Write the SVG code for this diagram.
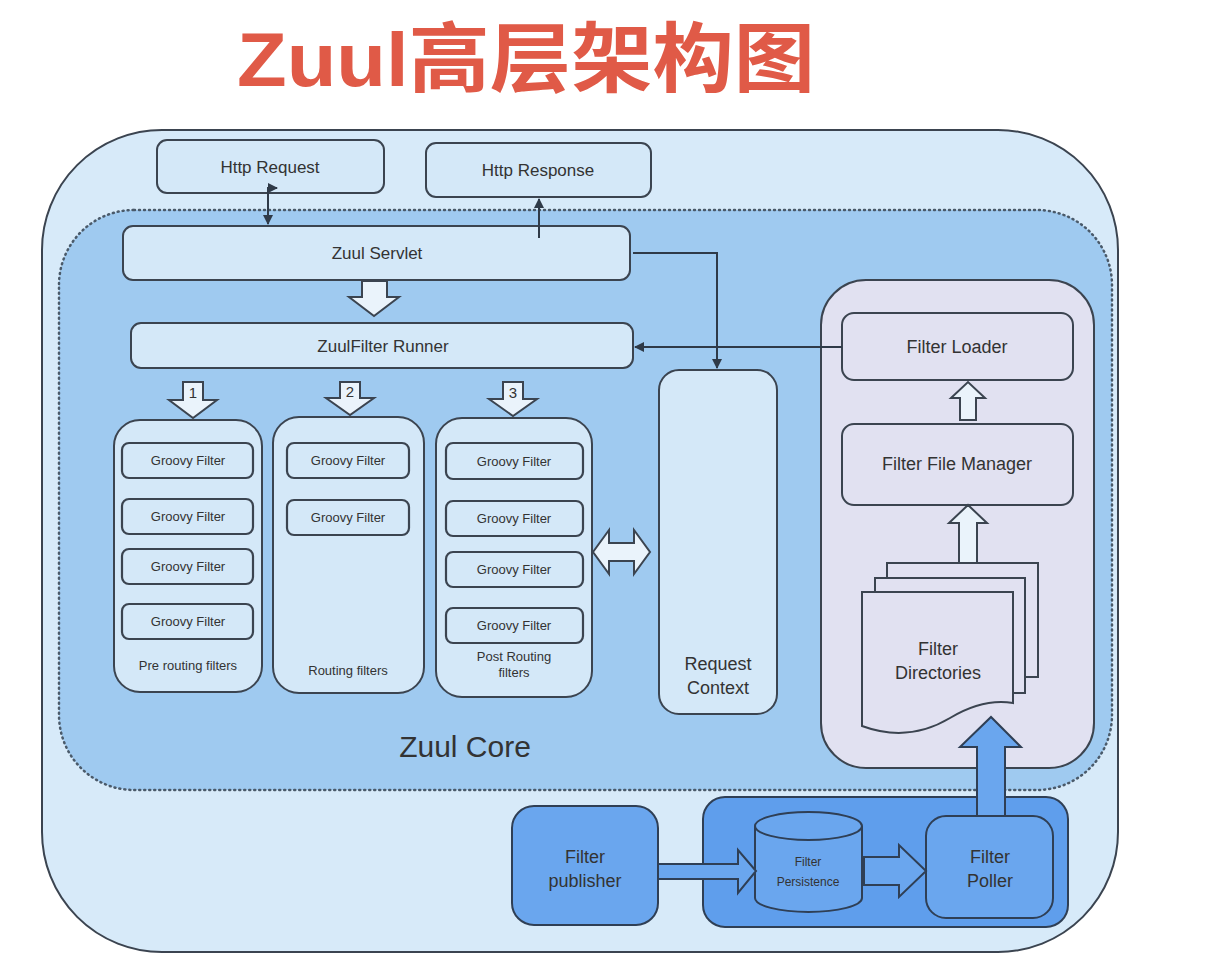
<svg xmlns="http://www.w3.org/2000/svg" width="1215" height="970" viewBox="0 0 1215 970">
<defs>
<style>
.t{font-family:"Liberation Sans",Arial,sans-serif;fill:#333;text-anchor:middle}
.box{fill:#d4e8f8;stroke:#3b4450;stroke-width:2}
.gf{fill:#d4e8f8;stroke:#3b4450;stroke-width:2.2}
.lav{fill:#e1e1f1;stroke:#3b4450;stroke-width:2}
.blue{fill:#6aa6ee;stroke:#2f3f55;stroke-width:2}
.hollow{fill:#eaf3fb;stroke:#3b4450;stroke-width:2;stroke-linejoin:miter}
.line{fill:none;stroke:#2f3a48;stroke-width:2}
</style>
<marker id="ah" viewBox="0 0 10 10" refX="9" refY="5" markerWidth="5" markerHeight="5" orient="auto-start-reverse"><path d="M0,0 L10,5 L0,10 Z" fill="#2f3a48"/></marker>
</defs>
<rect width="1215" height="970" fill="#ffffff"/>
<text x="237" y="86" font-family="'Liberation Sans','Noto Sans CJK SC',sans-serif" font-weight="bold" font-size="76" fill="#e05a47" textLength="578" lengthAdjust="spacingAndGlyphs">Zuul高层架构图</text>

<g id="outer"><rect x="42" y="130" width="1076" height="822" rx="120" fill="#d7eaf9" stroke="#3b4450" stroke-width="2"/></g>
<g id="zuul-core"><rect x="59" y="210" width="1053" height="580" rx="75" fill="#9fcaf0" stroke="#4a5a6a" stroke-width="2.5" stroke-dasharray="1 4" stroke-linecap="round"/>
<text class="t" x="465" y="757" font-size="30" fill="#222">Zuul Core</text></g>

<g id="http-request"><rect class="box" x="157" y="140" width="227" height="53" rx="10"/><text class="t" x="270" y="173" font-size="17">Http Request</text></g>
<g id="http-response"><rect class="box" x="426" y="143" width="225" height="54" rx="10"/><text class="t" x="538" y="176" font-size="17">Http Response</text></g>
<g id="zuul-servlet"><rect class="box" x="123" y="226" width="507" height="54" rx="10"/><text class="t" x="377" y="259" font-size="17">Zuul Servlet</text></g>
<g id="zuulfilter-runner"><rect class="box" x="131" y="323" width="502" height="45" rx="10"/><text class="t" x="383" y="352" font-size="17">ZuulFilter Runner</text></g>

<g id="pre-routing"><rect class="box" x="114" y="420" width="148" height="272" rx="26"/>
<rect class="gf" x="122" y="443" width="131" height="35" rx="7"/><text class="t" x="188" y="465" font-size="13">Groovy Filter</text>
<rect class="gf" x="122" y="499" width="131" height="35" rx="7"/><text class="t" x="188" y="521" font-size="13">Groovy Filter</text>
<rect class="gf" x="122" y="549" width="131" height="35" rx="7"/><text class="t" x="188" y="571" font-size="13">Groovy Filter</text>
<rect class="gf" x="122" y="604" width="131" height="35" rx="7"/><text class="t" x="188" y="626" font-size="13">Groovy Filter</text>
<text class="t" x="188" y="670" font-size="13">Pre routing filters</text></g>

<g id="routing"><rect class="box" x="273" y="417" width="151" height="276" rx="26"/>
<rect class="gf" x="287" y="443" width="122" height="35" rx="7"/><text class="t" x="348" y="465" font-size="13">Groovy Filter</text>
<rect class="gf" x="287" y="500" width="122" height="35" rx="7"/><text class="t" x="348" y="522" font-size="13">Groovy Filter</text>
<text class="t" x="348" y="675" font-size="13">Routing filters</text></g>

<g id="post-routing"><rect class="box" x="436" y="418" width="156" height="279" rx="26"/>
<rect class="gf" x="446" y="443" width="137" height="36" rx="7"/><text class="t" x="514" y="466" font-size="13">Groovy Filter</text>
<rect class="gf" x="446" y="501" width="137" height="35" rx="7"/><text class="t" x="514" y="523" font-size="13">Groovy Filter</text>
<rect class="gf" x="446" y="552" width="137" height="35" rx="7"/><text class="t" x="514" y="574" font-size="13">Groovy Filter</text>
<rect class="gf" x="446" y="608" width="137" height="35" rx="7"/><text class="t" x="514" y="630" font-size="13">Groovy Filter</text>
<text class="t" x="514" y="661" font-size="13">Post Routing</text><text class="t" x="514" y="677" font-size="13">filters</text></g>

<g id="request-context"><rect class="box" x="659" y="370" width="118" height="344" rx="20"/>
<text class="t" x="718" y="670" font-size="18">Request</text><text class="t" x="718" y="694" font-size="18">Context</text></g>

<g id="filter-management"><rect class="lav" x="821" y="280" width="273" height="488" rx="45"/></g>
<g id="filter-loader"><rect class="lav" x="842" y="313" width="231" height="67" rx="12"/><text class="t" x="957" y="353" font-size="18">Filter Loader</text></g>
<g id="filter-file-manager"><rect class="lav" x="842" y="424" width="231" height="81" rx="12"/><text class="t" x="957" y="470" font-size="18">Filter File Manager</text></g>
<g id="filter-directories">
<rect class="lav" x="887" y="563" width="151" height="114"/>
<rect class="lav" x="875" y="578" width="150" height="115"/>
<path class="lav" d="M862,592 L1013,592 L1013,703 C995,700 975,703 950,718 C930,730 900,740 862,726 Z"/>
<text class="t" x="938" y="655" font-size="18">Filter</text><text class="t" x="938" y="679" font-size="18">Directories</text></g>

<g id="bottom-container"><rect x="703" y="797" width="365" height="130" rx="22" fill="#5f9eec" stroke="#2f3f55" stroke-width="2"/></g>
<g id="filter-publisher"><rect class="blue" x="512" y="806" width="146" height="119" rx="22"/>
<text class="t" x="585" y="863" font-size="18">Filter</text><text class="t" x="585" y="887" font-size="18">publisher</text></g>
<g id="filter-persistence">
<path class="blue" d="M755,826 L755,898 A53.5,14 0 0 0 862,898 L862,826"/>
<ellipse class="blue" cx="808.5" cy="826" rx="53.5" ry="14"/>
<text class="t" x="808" y="866" font-size="12">Filter</text><text class="t" x="808" y="886" font-size="12">Persistence</text></g>
<g id="filter-poller"><rect class="blue" x="926" y="816" width="127" height="102" rx="20"/>
<text class="t" x="990" y="863" font-size="18">Filter</text><text class="t" x="990" y="887" font-size="18">Poller</text></g>

<g id="connectors">
<path class="line" d="M277,188 L268,188 L268,224" marker-start="url(#ah)" marker-end="url(#ah)"/>
<path class="line" d="M539,238 L539,199" marker-end="url(#ah)"/>
<path class="line" d="M633,253 L717,253 L717,368" marker-end="url(#ah)"/>
<path class="line" d="M842,347 L635,347" marker-end="url(#ah)"/>
<path class="hollow" d="M362,281 L387,281 L387,297 L399,297 L374,316 L349,297 L362,297 Z"/>
<path class="hollow" d="M183,382 L203,382 L203,400 L217,400 L193,418 L169,400 L183,400 Z"/>
<text class="t" x="193" y="398" font-size="15">1</text>
<path class="hollow" d="M340,382 L360,382 L360,398 L374,398 L350,415 L326,398 L340,398 Z"/>
<text class="t" x="350" y="397" font-size="15">2</text>
<path class="hollow" d="M503,382 L523,382 L523,399 L537,399 L513,416 L489,399 L503,399 Z"/>
<text class="t" x="513" y="398" font-size="15">3</text>
<path class="hollow" d="M593,552 L609,530 L609,543 L634,543 L634,530 L650,552 L634,574 L634,561 L609,561 L609,574 Z"/>
<path class="hollow" d="M960,420 L976,420 L976,398 L985,398 L968,382 L951,398 L960,398 Z"/>
<path class="hollow" d="M959,563 L977,563 L977,523 L987,523 L968,505 L949,523 L959,523 Z"/>
<path class="blue" d="M977,816 L977,747 L960,747 L991,717 L1021,747 L1005,747 L1005,816 Z"/>
<path class="blue" d="M658,864 L738,864 L738,850 L756,871 L738,893 L738,879 L658,879 Z"/>
<path class="blue" d="M864,857 L899,857 L899,845 L926,871 L899,897 L899,885 L864,885 Z"/>
</g>
</svg>
